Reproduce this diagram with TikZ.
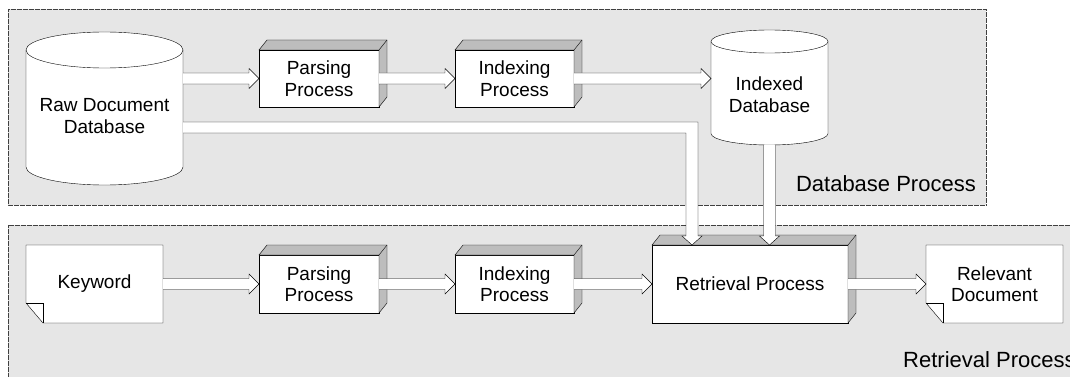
\documentclass[tikz,border=0pt]{standalone}
\usepackage{fontspec}
\setmainfont{Liberation Sans}
\usetikzlibrary{calc}
\definecolor{panel}{HTML}{E6E6E6}
\definecolor{face}{HTML}{BDBDBD}
\pgfdeclarelayer{panels}
\pgfdeclarelayer{shapes}
\pgfsetlayers{panels,shapes,main}

\tikzset{
  txt/.style={font=\fontsize{19}{21.5}\selectfont, align=center},
  slab/.style={txt, draw, fill=white, inner sep=0pt, outer sep=0pt},
  dbnode/.style={inner sep=0pt, outer sep=0pt},
  dbtext/.style={txt, inner sep=0pt},
  docnode/.style={txt, inner sep=0pt, outer sep=0pt, minimum width=137pt, minimum height=78pt},
  hollow/.style={fill=white, draw=black},
  panelbox/.style={fill=panel, draw=black!75, dash pattern=on 0.6pt off 0.6pt},
  tag/.style={font=\fontsize{22}{24}\selectfont, inner sep=0pt}
}

% horizontal hollow arrow, #1 start, #2 tip
\newcommand\harrow[2]{%
  \filldraw[hollow] let \p1=#1, \p2=#2 in
    (\x1,\y1+5.5pt) -- (\x2-10pt,\y1+5.5pt) -- (\x2-10pt,\y1+10pt) -- (\x2,\y1)
    -- (\x2-10pt,\y1-10pt) -- (\x2-10pt,\y1-5.5pt) -- (\x1,\y1-5.5pt);}
% vertical hollow arrow (downwards)
\newcommand\varrow[2]{%
  \filldraw[hollow] let \p1=#1, \p2=#2 in
    (\x1-6pt,\y1) -- (\x1-6pt,\y2+9pt) -- (\x1-10pt,\y2+9pt) -- (\x1,\y2)
    -- (\x1+10pt,\y2+9pt) -- (\x1+6pt,\y2+9pt) -- (\x1+6pt,\y1);}
% top and right face of a process box
\newcommand\slabfaces[1]{%
  \filldraw[fill=face] (#1.north west) -- ++(8,-10) -- ([shift={(8,-10)}]#1.north east)
    -- ([shift={(8,-10)}]#1.south east) -- (#1.south east) -- (#1.north east) -- cycle;
  \draw (#1.north east) -- ++(8,-10);}
% database cylinder: node, x radius, y radius
\newcommand\cyl[3]{%
  \begin{pgfonlayer}{shapes}
  \filldraw[fill=white] ([yshift=-#3pt]#1.north west) -- ([yshift=#3pt]#1.south west)
    arc[start angle=180, end angle=360, x radius=#2pt, y radius=#3pt]
    -- ([yshift=-#3pt]#1.north east)
    arc[start angle=0, end angle=180, x radius=#2pt, y radius=#3pt] -- cycle;
  \draw ([yshift=-#3pt]#1.north west) arc[start angle=180, end angle=360, x radius=#2pt, y radius=#3pt];
  \end{pgfonlayer}}
% document with folded corner
\newcommand\docfold[1]{%
  \begin{pgfonlayer}{shapes}
  \filldraw[fill=white] (#1.north west) -- (#1.north east) -- (#1.south east)
    -- ([xshift=17pt]#1.south west) -- ([yshift=20pt]#1.south west) -- cycle;
  \draw ([yshift=20pt]#1.south west) -| ([xshift=17pt]#1.south west);
  \end{pgfonlayer}}

\begin{document}
\begin{tikzpicture}[x=1pt, y=-1pt, line width=1pt]
  \useasboundingbox (0,0) rectangle (1070,377);
  \clip (0,0) rectangle (1070,377);

  % panels
  \begin{pgfonlayer}{panels}
    \draw[panelbox] (8,9) rectangle (986,205);
    \draw[panelbox] (8,225) rectangle (1090,400);
  \end{pgfonlayer}
  \node[tag, anchor=base east] (dbtag) at (976,191) {Database Process};
  \node[tag, anchor=base west] (rttag) at (903,367) {Retrieval Process};

  % database process
  \node[dbnode, minimum width=157pt, minimum height=153pt,
    label={[dbtext, yshift=-7.5pt]center:{Raw Document\\Database}}] (rawdb) at (104.5,108.5) {};
  \cyl{rawdb}{78.5}{18}
  \node[slab, minimum width=120pt, minimum height=57pt] (parse1) at (319,78.5) {Parsing\\Process};
  \node[slab, minimum width=119pt, minimum height=57pt] (index1) at (514.5,78.5) {Indexing\\Process};
  \node[dbnode, minimum width=117pt, minimum height=115pt,
    label={[dbtext, yshift=-7pt]center:{Indexed\\Database}}] (idxdb) at (769.5,87.5) {};
  \cyl{idxdb}{58.5}{11.5}

  % retrieval process
  \node[docnode] (keyword) at (94.5,284) {Keyword};
  \docfold{keyword}
  \node[slab, minimum width=120pt, minimum height=58pt] (parse2) at (319,284) {Parsing\\Process};
  \node[slab, minimum width=119pt, minimum height=58pt] (index2) at (514.5,284) {Indexing\\Process};
  \node[slab, minimum width=196pt, minimum height=78pt] (retr) at (750,284) {Retrieval Process};
  \node[docnode] (reldoc) at (994.5,284) {Relevant\\Document};
  \docfold{reldoc}

  \foreach \b in {parse1,index1,parse2,index2,retr} {\slabfaces{\b}}

  % arrows
  \harrow{(rawdb.east |- parse1.west)}{(parse1.west)}
  \harrow{(parse1.east)}{(index1.west)}
  \harrow{(index1.east)}{(idxdb.west |- index1.east)}
  \coordinate (turn) at (692,127.5);
  \filldraw[hollow] let \p1=(rawdb.east |- turn), \p2=(turn), \p3=(turn |- retr.north) in
    (\x1,\y1+5.5pt) -- (\x2+6pt,\y1+5.5pt) -- (\x2+6pt,\y3+9pt) -- (\x2+10pt,\y3+9pt)
    -- (\x3,\y3) -- (\x2-10pt,\y3+9pt) -- (\x2-6pt,\y3+9pt) -- (\x2-6pt,\y1-5.5pt) -- (\x1,\y1-5.5pt);
  \varrow{(idxdb.south)}{(retr.north -| idxdb.south)}
  \harrow{(keyword.east)}{(parse2.west)}
  \harrow{(parse2.east)}{(index2.west)}
  \harrow{(index2.east)}{(retr.west)}
  \harrow{(retr.east)}{(reldoc.west)}
\end{tikzpicture}
\end{document}
